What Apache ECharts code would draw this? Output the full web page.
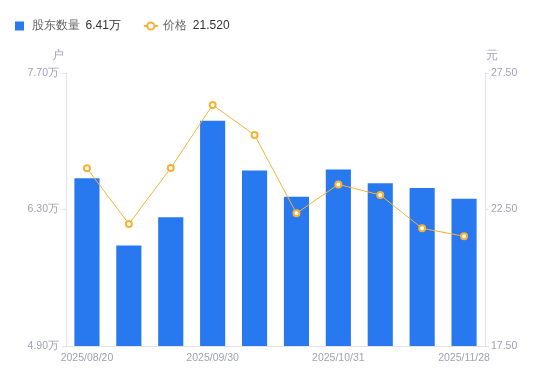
<!DOCTYPE html>
<html><head><meta charset="utf-8">
<script src="https://cdn.jsdelivr.net/npm/echarts@6/dist/echarts.min.js"></script>
<style>html,body{margin:0;padding:0;background:#fff}#c{width:550px;height:381px}</style>
</head><body><div id="c"></div>
<script>
const categories = ['2025/08/20','2025/08/31','2025/09/19','2025/09/30','2025/10/10','2025/10/20','2025/10/31','2025/11/10','2025/11/20','2025/11/28'];
const holders = [6.62, 5.93, 6.22, 7.21, 6.70, 6.43, 6.71, 6.57, 6.52, 6.41];
const prices = [24.01, 21.97, 24.02, 26.33, 25.23, 22.36, 23.42, 23.03, 21.81, 21.52];
const leftTicks = [4.90, 6.30, 7.70];
const rightTicks = [17.50, 22.50, 27.50];

const chart = echarts.init(document.getElementById('c'));
const labelColor = '#a0a2b3';
const axisLineColor = '#e3e3e3';
chart.setOption({
  animation: false,
  legend: {
    left: 10, top: 15,
    itemWidth: 14, itemHeight: 9, itemGap: 22,
    textStyle: { fontSize: 12, color: '#666',
      rich: { n: { fontSize: 12, color: '#666' }, v: { fontSize: 12, color: '#333', padding: [0,0,0,6] } } },
    formatter: function (name) {
      if (name === '股东数量') return '{n|股东数量}{v|' + holders[holders.length-1].toFixed(2) + '万}';
      return '{n|价格}{v|' + prices[prices.length-1].toFixed(3) + '}';
    },
    data: [{ name: '股东数量', icon: 'path://M0,0h10v10h-10z' }, { name: '价格' }]
  },
  grid: { left: 66, right: 65, top: 73, bottom: 35 },
  xAxis: {
    type: 'category', data: categories,
    axisLine: { lineStyle: { color: axisLineColor } },
    axisTick: { show: false },
    axisLabel: { color: labelColor, fontSize: 10.5, interval: 2, margin: 7 }
  },
  yAxis: [{
    type: 'value', name: '户', min: 4.9, max: 7.7,
    nameTextStyle: { color: labelColor, fontSize: 12, padding: [0, 17, 0, 0] },
    nameGap: 11,
    axisLine: { show: true, lineStyle: { color: axisLineColor } },
    axisTick: { show: true, length: 4, lineStyle: { color: axisLineColor }, customValues: leftTicks },
    splitLine: { show: false },
    axisLabel: { color: labelColor, fontSize: 10.5, margin: 7, customValues: leftTicks,
      formatter: v => v.toFixed(2) + '万' }
  }, {
    type: 'value', name: '元', min: 17.5, max: 27.5, position: 'right',
    nameTextStyle: { color: labelColor, fontSize: 12, padding: [0, 0, 0, 14] },
    nameGap: 11,
    axisLine: { show: true, lineStyle: { color: axisLineColor } },
    axisTick: { show: true, length: 4, lineStyle: { color: axisLineColor }, customValues: rightTicks },
    splitLine: { show: false },
    axisLabel: { color: labelColor, fontSize: 10.5, margin: 6, customValues: rightTicks,
      formatter: v => v.toFixed(2) }
  }],
  series: [{
    name: '股东数量', type: 'bar', data: holders, barWidth: '60%',
    itemStyle: { color: '#2878f0' }
  }, {
    name: '价格', type: 'line', yAxisIndex: 1, data: prices,
    symbol: 'emptyCircle', symbolSize: 6,
    lineStyle: { color: '#f8b135', width: 1 },
    itemStyle: { color: '#f8b135', borderWidth: 2 }
  }]
});
</script></body></html>
